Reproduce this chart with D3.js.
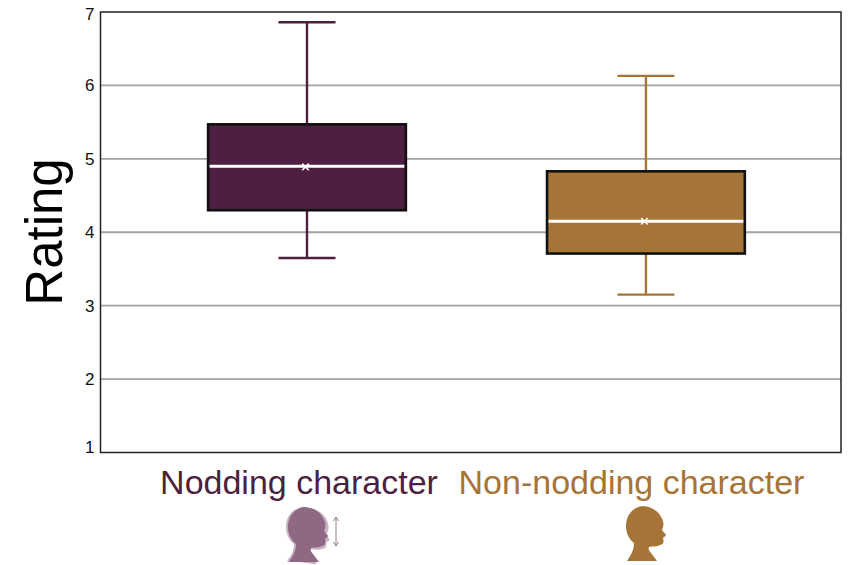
<!DOCTYPE html>
<html>
<head>
<meta charset="utf-8">
<script src="https://cdn.jsdelivr.net/npm/d3@7"></script>
<style>
  html, body { margin: 0; padding: 0; background: #fff; }
  svg { display: block; font-family: "Liberation Sans", Arial, sans-serif; }
</style>
</head>
<body>
<svg id="chart" width="853" height="565"></svg>
<script>
var categories = ["Nodding character", "Non-nodding character"]
var whiskerHigh = [6.86, 6.13]
var upperQuartile = [5.47, 4.83]
var medians = [4.90, 4.15]
var means = [4.89, 4.15]
var lowerQuartile = [4.30, 3.71]
var whiskerLow = [3.65, 3.15]
var colors = ["#4e1f41", "#a67436"]
var yTicks = [1, 2, 3, 4, 5, 6, 7]
var gridTicks = [2, 3, 4, 5, 6]

var svg = d3.select("#chart")
var left = 100.5, right = 841, top_ = 12, bottom = 452.5

var y = d3.scaleLinear().domain([1, 7]).range([bottom, top_])
var x = d3.scaleBand().domain(categories).range([left, right]).paddingInner(0.4165).paddingOuter(0.3006).align(0.528)

// grid first, so boxes sit on top of it
svg.selectAll("line.grid").data(gridTicks).enter().append("line")
  .attr("class", "grid")
  .attr("x1", left).attr("x2", right)
  .attr("y1", function (d) { return y(d) }).attr("y2", function (d) { return y(d) })
  .attr("stroke", "#a3a3a3").attr("stroke-width", 1.8)

svg.append("rect")
  .attr("x", left).attr("y", top_)
  .attr("width", right - left).attr("height", bottom - top_)
  .attr("fill", "none").attr("stroke", "#222").attr("stroke-width", 1.5)

var yAxis = d3.axisLeft(y).tickValues(yTicks).tickSize(0).tickPadding(6).tickFormat(d3.format("d"))
var yG = svg.append("g").attr("transform", "translate(" + left + ",0)").call(yAxis)
yG.select(".domain").remove()
yG.selectAll("text").attr("font-size", 17).attr("fill", "#111")
  .attr("dy", function (d) {
    // the end labels sit inside the frame in the original
    if (d == 1) return "-0.0em"
    if (d == 7) return "0.42em"
    return "0.32em"
  })

svg.append("text")
  .attr("transform", "translate(62,232) rotate(-90)")
  .attr("text-anchor", "middle")
  .attr("font-size", 51)
  .attr("fill", "#000")
  .text("Rating")

var capWidth = 57

var boxes = svg.selectAll("g.box").data(categories).enter().append("g").attr("class", "box")

boxes.each(function (c, i) {
  var g = d3.select(this)
  var cx = x(c) + x.bandwidth() / 2

  g.append("line")
    .attr("x1", cx).attr("x2", cx)
    .attr("y1", y(whiskerHigh[i])).attr("y2", y(whiskerLow[i]))
    .attr("stroke", colors[i]).attr("stroke-width", 2.4)

  var caps = [whiskerHigh[i], whiskerLow[i]]
  caps.forEach(function (v) {
    g.append("line")
      .attr("x1", cx - capWidth / 2).attr("x2", cx + capWidth / 2)
      .attr("y1", y(v)).attr("y2", y(v))
      .attr("stroke", colors[i]).attr("stroke-width", 2.4)
  })

  g.append("rect")
    .attr("x", x(c)).attr("width", x.bandwidth())
    .attr("y", y(upperQuartile[i]))
    .attr("height", y(lowerQuartile[i]) - y(upperQuartile[i]))
    .attr("fill", colors[i]).attr("stroke", "#111").attr("stroke-width", 2.6)

  g.append("line")
    .attr("x1", x(c) + 1.5).attr("x2", x(c) + x.bandwidth() - 1.5)
    .attr("y1", y(medians[i])).attr("y2", y(medians[i]))
    .attr("stroke", "#fff").attr("stroke-width", 3)

  // mean marker, times is a stroke symbol in d3 v7
  g.append("path")
    .attr("d", d3.symbol().type(d3.symbolTimes).size(30)())
    .attr("transform", "translate(" + (cx - 1.5) + "," + y(means[i]) + ")")
    .attr("fill", "none")
    .attr("stroke", "#fff")
    .attr("stroke-width", 1.5)

  g.append("text")
    .attr("x", i == 0 ? 299 : 631.5)
    .attr("y", 494)
    .attr("text-anchor", "middle")
    .attr("font-size", 34)
    .attr("fill", colors[i])
    .text(c)
})

// head silhouette, outline, relative to the icon origin
var headPath = "M33,11C43,12 50,17 53,26C54,30 53,33 52,35C54,38 56,39 56,40C55,42 53,42 53,43"
  + "C54,46 54,49 50,50C47,52 42,51 39,52C38,54 39,56 41,58C43,61 45,63 47,66L17,66"
  + "C21,60 24,55 24,48C19,44 16,38 16,31C16,20 23,12 33,11Z"

var nod = svg.append("g").attr("transform", "translate(270,496)")
nod.append("path").attr("d", headPath).attr("fill", "#c9b1c1")
nod.append("path").attr("d", headPath).attr("fill", "#c9b1c1")
  .attr("transform", "rotate(8 30 60) translate(1,0)")
nod.append("path").attr("d", headPath).attr("fill", "#8f6883")
  .attr("transform", "translate(2,0)")

// up and down arrow beside the nodding head
var arrow = svg.append("g").attr("stroke", "#9a7a90").attr("fill", "none").attr("stroke-width", 1)
arrow.append("line").attr("x1", 336).attr("x2", 336).attr("y1", 517).attr("y2", 546)
arrow.append("path").attr("d", "M333.5,521L336,517L338.5,521")
arrow.append("path").attr("d", "M333.5,542L336,546L338.5,542")

svg.append("g").attr("transform", "translate(610,495)")
  .append("path").attr("d", headPath).attr("fill", colors[1])
</script>
</body>
</html>
